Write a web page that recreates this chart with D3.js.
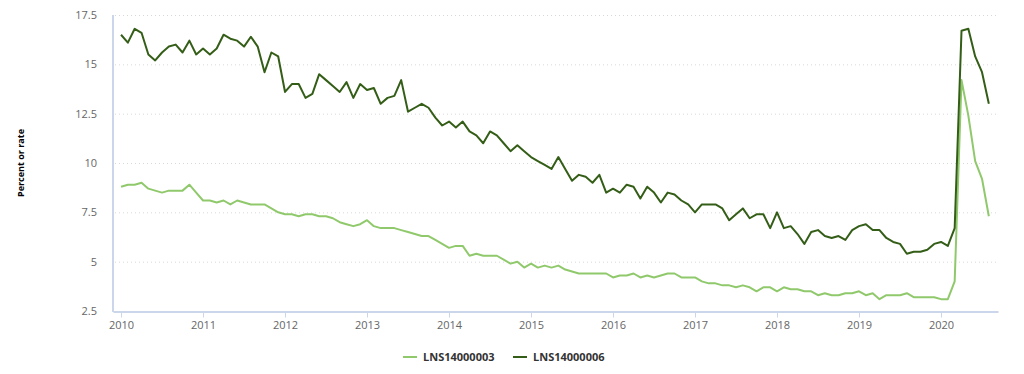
<!DOCTYPE html>
<html>
<head>
<meta charset="utf-8">
<script src="https://cdn.jsdelivr.net/npm/d3@7"></script>
<style>
  body { margin: 0; background: #fff; }
  svg { font-family: "Open Sans", "DejaVu Sans", sans-serif; }
  .grid line { stroke: #d8d8d8; stroke-dasharray: 1,3; }
</style>
</head>
<body>
<svg id="chart" width="1024" height="374"></svg>
<script>
// monthly series, Jan 2010 .. Aug 2020
var startYear = 2010
var white = [
  8.8, 8.9, 8.9, 9.0, 8.7, 8.6, 8.5, 8.6, 8.6, 8.6, 8.9, 8.5,
  8.1, 8.1, 8.0, 8.1, 7.9, 8.1, 8.0, 7.9, 7.9, 7.9, 7.7, 7.5,
  7.4, 7.4, 7.3, 7.4, 7.4, 7.3, 7.3, 7.2, 7.0, 6.9, 6.8, 6.9,
  7.1, 6.8, 6.7, 6.7, 6.7, 6.6, 6.5, 6.4, 6.3, 6.3, 6.1, 5.9,
  5.7, 5.8, 5.8, 5.3, 5.4, 5.3, 5.3, 5.3, 5.1, 4.9, 5.0, 4.7,
  4.9, 4.7, 4.8, 4.7, 4.8, 4.6, 4.5, 4.4, 4.4, 4.4, 4.4, 4.4,
  4.2, 4.3, 4.3, 4.4, 4.2, 4.3, 4.2, 4.3, 4.4, 4.4, 4.2, 4.2,
  4.2, 4.0, 3.9, 3.9, 3.8, 3.8, 3.7, 3.8, 3.7, 3.5, 3.7, 3.7,
  3.5, 3.7, 3.6, 3.6, 3.5, 3.5, 3.3, 3.4, 3.3, 3.3, 3.4, 3.4,
  3.5, 3.3, 3.4, 3.1, 3.3, 3.3, 3.3, 3.4, 3.2, 3.2, 3.2, 3.2,
  3.1, 3.1, 4.0, 14.2, 12.4, 10.1, 9.2, 7.3
]
var black = [
  16.5, 16.1, 16.8, 16.6, 15.5, 15.2, 15.6, 15.9, 16.0, 15.6, 16.2, 15.5,
  15.8, 15.5, 15.8, 16.5, 16.3, 16.2, 15.9, 16.4, 15.9, 14.6, 15.6, 15.4,
  13.6, 14.0, 14.0, 13.3, 13.5, 14.5, 14.2, 13.9, 13.6, 14.1, 13.3, 14.0,
  13.7, 13.8, 13.0, 13.3, 13.4, 14.2, 12.6, 12.8, 13.0, 12.8, 12.3, 11.9,
  12.1, 11.8, 12.1, 11.6, 11.4, 11.0, 11.6, 11.4, 11.0, 10.6, 10.9, 10.6,
  10.3, 10.1, 9.9, 9.7, 10.3, 9.7, 9.1, 9.4, 9.3, 9.0, 9.4, 8.5,
  8.7, 8.5, 8.9, 8.8, 8.2, 8.8, 8.5, 8.0, 8.5, 8.4, 8.1, 7.9,
  7.5, 7.9, 7.9, 7.9, 7.7, 7.1, 7.4, 7.7, 7.2, 7.4, 7.4, 6.7,
  7.5, 6.7, 6.8, 6.4, 5.9, 6.5, 6.6, 6.3, 6.2, 6.3, 6.1, 6.6,
  6.8, 6.9, 6.6, 6.6, 6.2, 6.0, 5.9, 5.4, 5.5, 5.5, 5.6, 5.9,
  6.0, 5.8, 6.7, 16.7, 16.8, 15.4, 14.6, 13.0
]
var seriesNames = ['LNS14000003', 'LNS14000006']
var seriesColors = ['#90c96c', '#345e17']
var yTicks = [2.5, 5, 7.5, 10, 12.5, 15, 17.5]
var xTicks = [2010, 2011, 2012, 2013, 2014, 2015, 2016, 2017, 2018, 2019, 2020]

var svg = d3.select('#chart')
var plotL = 113, plotR = 998, plotT = 15, plotB = 311

var x = d3.scaleLinear()
  .domain([2009.902, 2020.695])
  .range([plotL, plotR])
var y = d3.scaleLinear()
  .domain([2.5, 17.5])
  .range([plotB, plotT])

// gridlines
svg.append('g')
  .attr('class', 'grid')
  .selectAll('line')
  .data(yTicks.slice(1))
  .enter()
  .append('line')
  .attr('x1', plotL + 2)
  .attr('x2', plotR)
  .attr('y1', d => y(d) + 0.5)
  .attr('y2', d => y(d) + 0.5)

// y axis labels
svg.append('g')
  .selectAll('text')
  .data(yTicks)
  .enter()
  .append('text')
  .attr('x', 97)
  .attr('y', d => y(d))
  .attr('dy', '0.35em')
  .attr('text-anchor', 'end')
  .attr('font-size', 11)
  .attr('fill', '#666')
  .text(d => d)

// axis lines
svg.append('line')
  .attr('x1', plotL).attr('x2', plotL)
  .attr('y1', plotT).attr('y2', plotB + 1)
  .attr('stroke', '#ccd6eb').attr('stroke-width', 2)

var xAxis = svg.append('g')
  .attr('transform', 'translate(0,' + (plotB + 0.5) + ')')
  .call(d3.axisBottom(x).tickValues(xTicks).tickFormat(d3.format('d'))
    .tickSizeInner(6).tickSizeOuter(0).tickPadding(4))
xAxis.select('.domain').attr('stroke', '#ccd6eb').attr('stroke-width', 2)
xAxis.selectAll('.tick line').attr('stroke', '#ccd6eb')
xAxis.selectAll('.tick text')
  .attr('font-size', 11)
  .attr('fill', '#666')
  .attr('font-family', '"Open Sans", "DejaVu Sans", sans-serif')

// y title
svg.append('text')
  .attr('transform', 'translate(24,163) rotate(-90)')
  .attr('text-anchor', 'middle')
  .attr('font-size', 9)
  .attr('font-weight', 'bold')
  .attr('fill', '#000')
  .text('Percent or rate')

// lines
var line = d3.line()
  .x((d, i) => x(startYear + i / 12))
  .y(d => y(d))

;[white, black].forEach((vals, k) => {
  svg.append('path')
    .datum(vals)
    .attr('fill', 'none')
    .attr('stroke', seriesColors[k])
    .attr('stroke-width', 2)
    .attr('stroke-linejoin', 'round')
    .attr('d', line)
})

// legend
var legendX = [403, 513]
var legend = svg.append('g')
  .selectAll('g')
  .data(seriesNames)
  .enter()
  .append('g')
  .attr('transform', (d, i) => 'translate(' + legendX[i] + ',357)')
legend.append('line')
  .attr('x1', 0).attr('x2', 14)
  .attr('stroke', (d, i) => seriesColors[i])
  .attr('stroke-width', 2)
legend.append('text')
  .attr('x', 20)
  .attr('dy', '0.35em')
  .attr('font-size', 11)
  .attr('font-weight', 'bold')
  .attr('fill', '#333')
  .text(d => d)
</script>
</body>
</html>
